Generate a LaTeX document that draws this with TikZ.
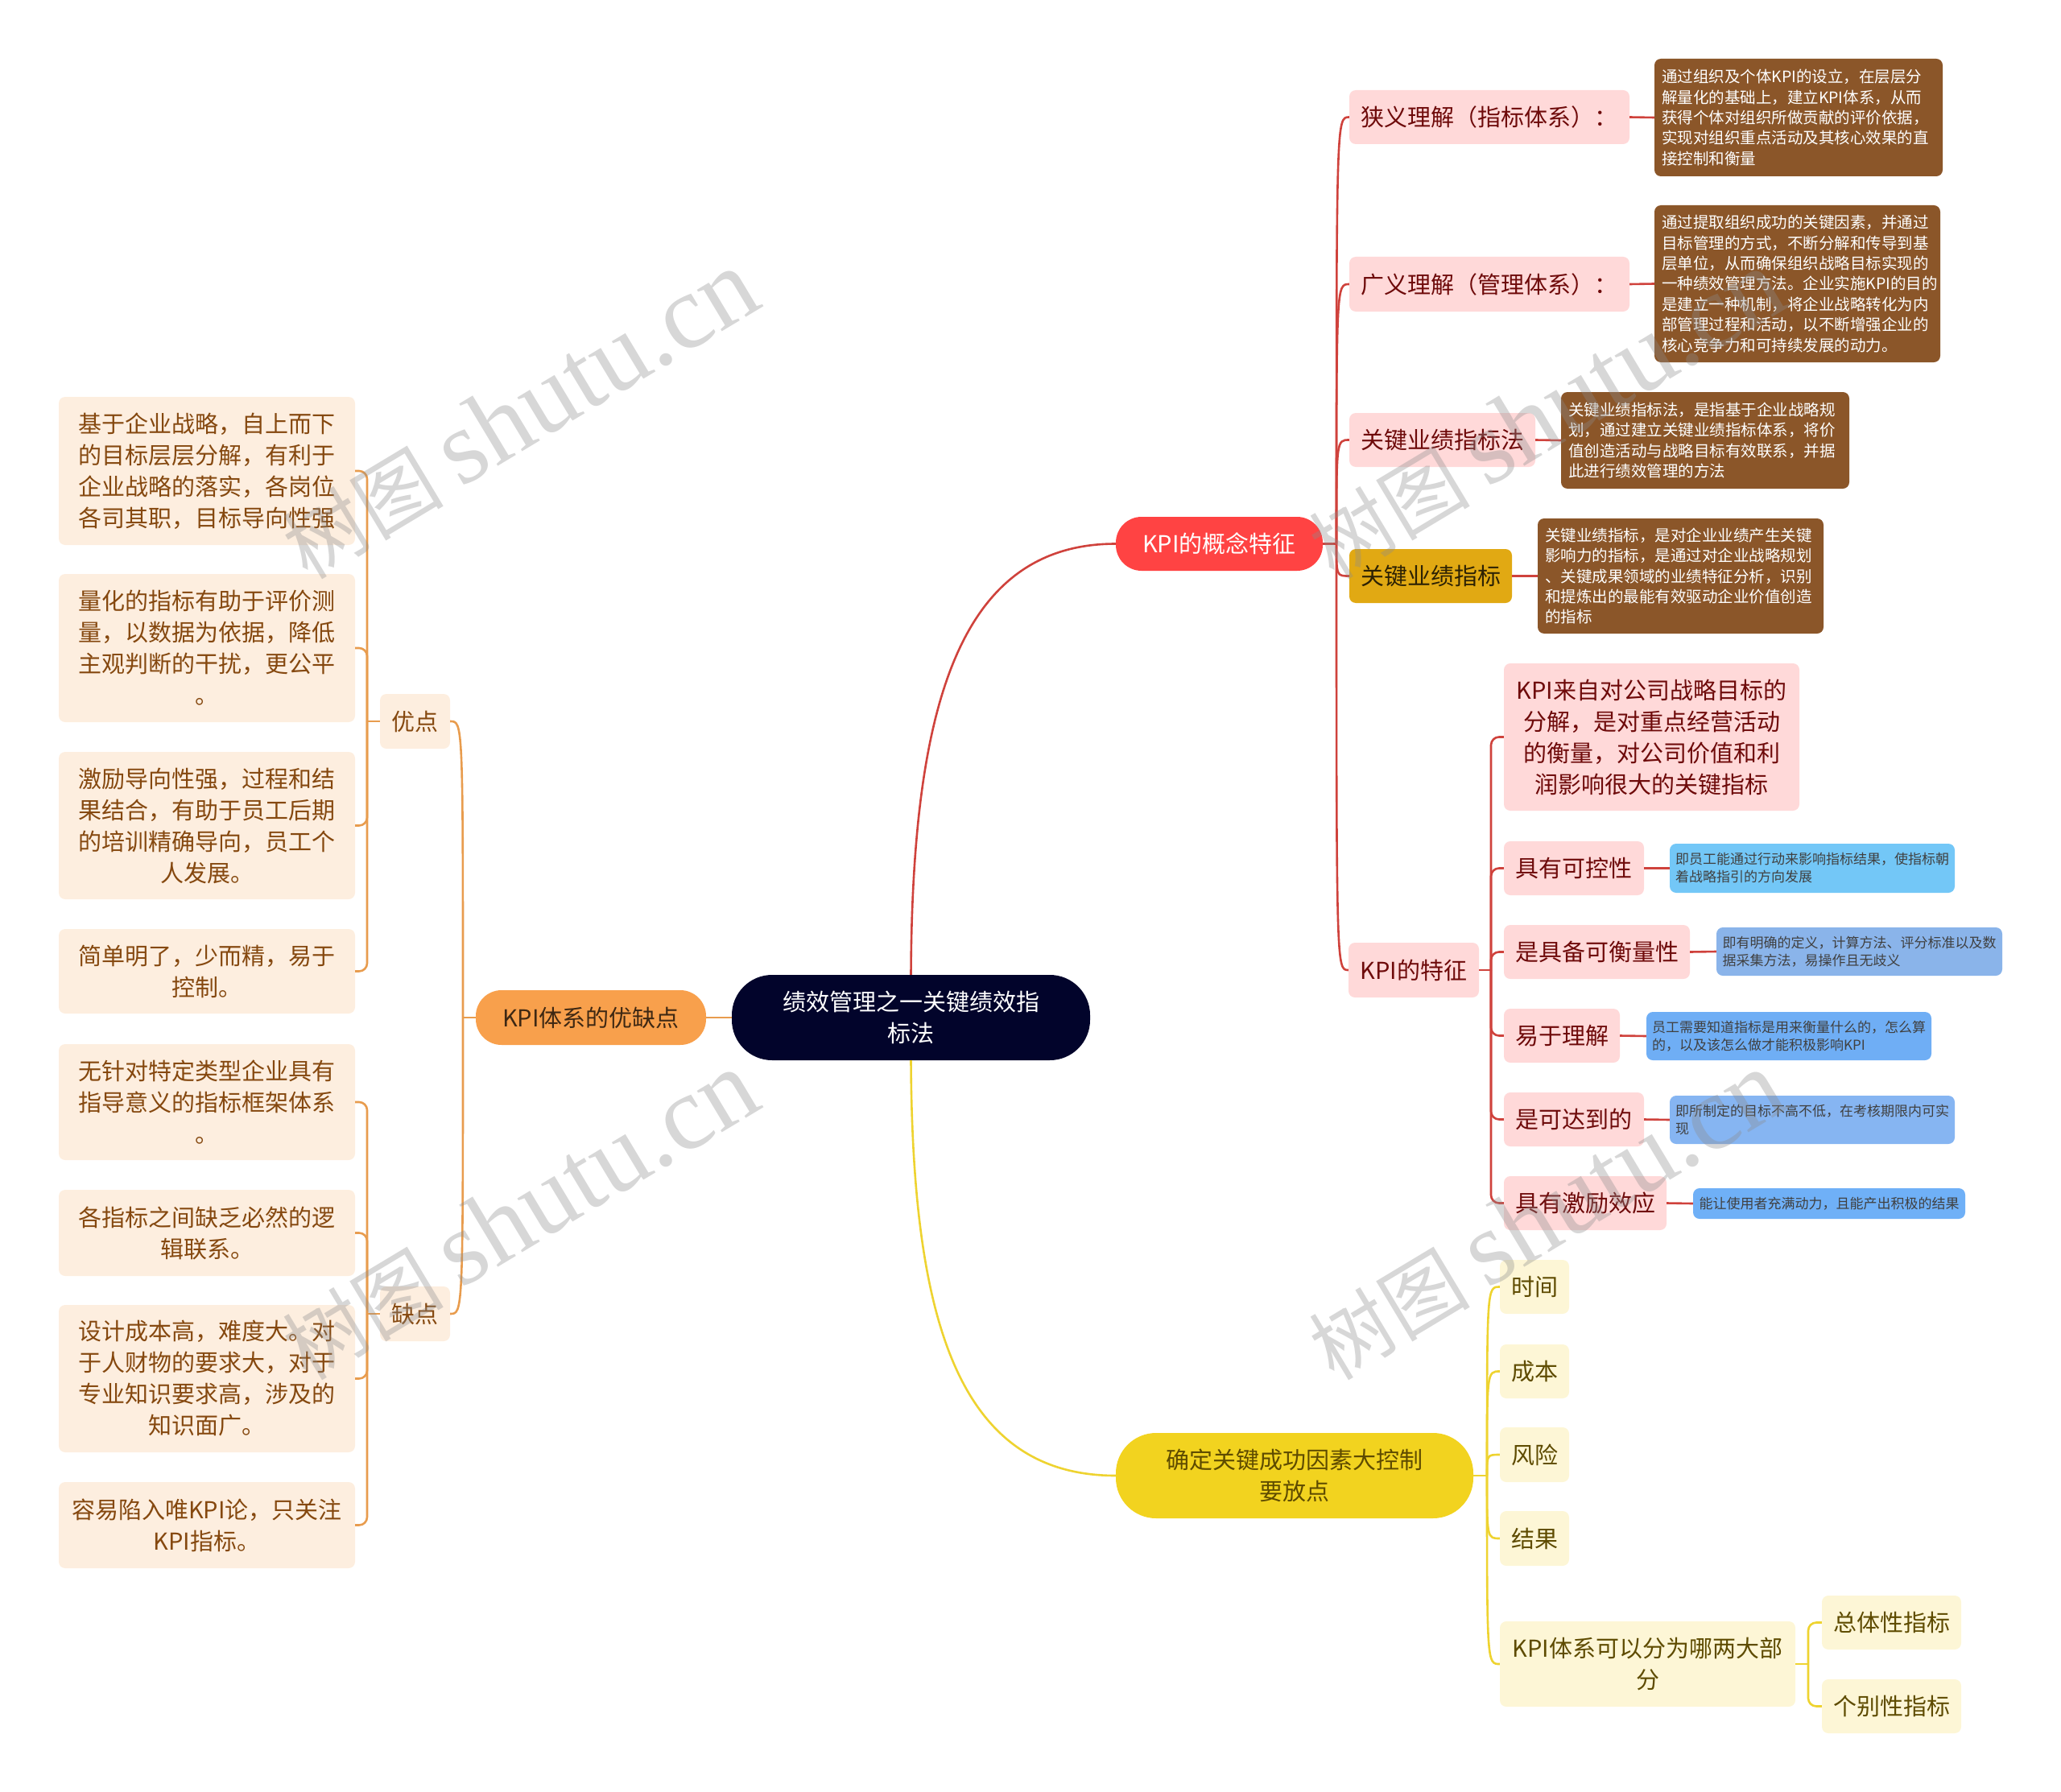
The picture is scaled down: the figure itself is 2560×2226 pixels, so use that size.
\documentclass[tikz,border=0pt]{standalone}
\usepackage{fontspec}
\setmainfont{Noto Sans CJK SC}
\newfontfamily\markfont{Liberation Serif}
\usetikzlibrary{positioning, calc}
\newcommand{\qc}{\char"FF0C\relax}
\newcommand{\qlp}{\char"FF08\relax}
\newcommand{\qrp}{\char"FF09\relax}
\newcommand{\qcolon}{\char"FF1A\relax}
\definecolor{rootfill}{HTML}{02042B}
\definecolor{redfill}{HTML}{FF4343}
\definecolor{redline}{HTML}{CF423C}
\definecolor{pinkfill}{HTML}{FFD9D9}
\definecolor{pinktext}{HTML}{6E0A0A}
\definecolor{goldfill}{HTML}{E1A913}
\definecolor{brownfill}{HTML}{8B5629}
\definecolor{orangefill}{HTML}{F8A04C}
\definecolor{orangeline}{HTML}{E89C4E}
\definecolor{peachfill}{HTML}{FDEEDF}
\definecolor{peachtext}{HTML}{85480F}
\definecolor{yellowfill}{HTML}{F2D31F}
\definecolor{yellowline}{HTML}{EED330}
\definecolor{paleyellow}{HTML}{FDF6D6}
\definecolor{paletext}{HTML}{5E4B00}
\definecolor{blueone}{HTML}{73C7F7}
\definecolor{bluetwo}{HTML}{8AB4EA}
\definecolor{bluethree}{HTML}{6FAEF5}
\definecolor{bluefour}{HTML}{86B5F2}
\definecolor{bluefive}{HTML}{6FB0F7}
\tikzset{
	card/.style={rectangle, align=center, inner sep=0pt, rounded corners=8pt, font=\fontsize{29}{39}\selectfont},
	pinkcard/.style={card, fill=pinkfill, text=pinktext},
	peachcard/.style={card, fill=peachfill, text=peachtext},
	textcard/.style={peachcard, minimum width=368pt},
	palecard/.style={card, fill=paleyellow, text=paletext},
	browncard/.style={card, align=left, fill=brownfill, text=white, inner xsep=9pt, font=\fontsize{19.5}{25.4}\selectfont},
	bluecard/.style={card, align=left, text=black!75, font=\fontsize{17}{22}\selectfont},
	redlink/.style={draw=redline, line width=2.6pt},
	orangelink/.style={draw=orangeline, line width=2.6pt},
	yellowlink/.style={draw=yellowline, line width=2.6pt},
	watermark/.style={text=black!45, opacity=0.35, rotate=31, font=\fontsize{100}{100}\selectfont}
}
\begin{document}
\begin{tikzpicture}[x=1pt, y=-1pt]
	\useasboundingbox (0,0) rectangle (2560,2226);
	\node[card, fill=rootfill, text=white, minimum width=445pt, minimum height=106pt, rounded corners=50pt] at (1131.5,1264) (root) {绩效管理之一关键绩效指\\标法};

	\node[card, fill=redfill, text=white, minimum width=257pt, minimum height=67pt, rounded corners=32pt] at (1514.5,675.5) (concept) {KPI的概念特征};
	\node[pinkcard, minimum width=348pt, minimum height=67pt] at (1850,145.5) (narrow) {狭义理解\qlp{}指标体系\qrp{}\qcolon{}};
	\node[pinkcard, minimum width=348pt, minimum height=68pt] at (1850,353) (broad) {广义理解\qlp{}管理体系\qrp{}\qcolon{}};
	\node[pinkcard, minimum width=231pt, minimum height=67pt] at (1791.5,546.5) (kpimethod) {关键业绩指标法};
	\node[card, fill=goldfill, text=black!80!goldfill, minimum width=202pt, minimum height=67pt] at (1777,715.5) (kpiindex) {关键业绩指标};
	\node[pinkcard, minimum width=162pt, minimum height=68pt] at (1756,1205) (traits) {KPI的特征};

	\node[browncard, text width=340pt, minimum height=146pt] at (2234,146) (narrowtext) {通过组织及个体KPI的设立\qc{}在层层分\\解量化的基础上\qc{}建立KPI体系\qc{}从而\\获得个体对组织所做贡献的评价依据\qc{}\\实现对组织重点活动及其核心效果的直\\接控制和衡量};
	\node[browncard, text width=337pt, minimum height=195pt] at (2232.5,352.5) (broadtext) {通过提取组织成功的关键因素\qc{}并通过\\目标管理的方式\qc{}不断分解和传导到基\\层单位\qc{}从而确保组织战略目标实现的\\一种绩效管理方法。企业实施KPI的目的\\是建立一种机制\qc{}将企业战略转化为内\\部管理过程和活动\qc{}以不断增强企业的\\核心竞争力和可持续发展的动力。};
	\node[browncard, text width=340pt, minimum height=120pt] at (2118,547) (methodtext) {关键业绩指标法\qc{}是指基于企业战略规\\划\qc{}通过建立关键业绩指标体系\qc{}将价\\值创造活动与战略目标有效联系\qc{}并据\\此进行绩效管理的方法};
	\node[browncard, text width=337pt, minimum height=143pt] at (2087.5,715.5) (indextext) {关键业绩指标\qc{}是对企业业绩产生关键\\影响力的指标\qc{}是通过对企业战略规划\\、关键成果领域的业绩特征分析\qc{}识别\\和提炼出的最能有效驱动企业价值创造\\的指标};

	\node[pinkcard, minimum width=367pt, minimum height=183pt] at (2051.5,915.5) (source) {KPI来自对公司战略目标的\\分解\qc{}是对重点经营活动\\的衡量\qc{}对公司价值和利\\润影响很大的关键指标};
	\node[pinkcard, minimum width=174pt, minimum height=67pt] at (1955,1078.5) (control) {具有可控性};
	\node[pinkcard, minimum width=231pt, minimum height=67pt] at (1983.5,1182.5) (measure) {是具备可衡量性};
	\node[pinkcard, minimum width=144pt, minimum height=67pt] at (1940,1286.5) (clear) {易于理解};
	\node[pinkcard, minimum width=174pt, minimum height=67pt] at (1955,1390.5) (reach) {是可达到的};
	\node[pinkcard, minimum width=202pt, minimum height=67pt] at (1969,1494.5) (motive) {具有激励效应};

	\node[bluecard, fill=blueone, minimum width=354pt, minimum height=61pt] at (2251,1078.5) (controltext) {即员工能通过行动来影响指标结果\qc{}使指标朝\\着战略指引的方向发展};
	\node[bluecard, fill=bluetwo, minimum width=355pt, minimum height=60pt] at (2309.5,1182) (measuretext) {即有明确的定义\qc{}计算方法、评分标准以及数\\据采集方法\qc{}易操作且无歧义};
	\node[bluecard, fill=bluethree, minimum width=354pt, minimum height=60pt] at (2222,1287) (cleartext) {员工需要知道指标是用来衡量什么的\qc{}怎么算\\的\qc{}以及该怎么做才能积极影响KPI};
	\node[bluecard, fill=bluefour, minimum width=354pt, minimum height=60pt] at (2251,1391) (reachtext) {即所制定的目标不高不低\qc{}在考核期限内可实\\现};
	\node[bluecard, fill=bluefive, minimum width=338pt, minimum height=38pt] at (2272,1495) (motivetext) {能让使用者充满动力\qc{}且能产出积极的结果};

	\node[card, fill=orangefill, text=black!75!orangefill, minimum width=286pt, minimum height=68pt, rounded corners=32pt] at (734,1264) (system) {KPI体系的优缺点};
	\node[peachcard, minimum width=87pt, minimum height=68pt] at (515.5,896) (pros) {优点};
	\node[peachcard, minimum width=87pt, minimum height=68pt] at (515.5,1632) (cons) {缺点};

	\node[textcard, minimum height=184pt] at (257,585) (pro1) {基于企业战略\qc{}自上而下\\的目标层层分解\qc{}有利于\\企业战略的落实\qc{}各岗位\\各司其职\qc{}目标导向性强};
	\node[textcard, minimum height=184pt] at (257,805) (pro2) {量化的指标有助于评价测\\量\qc{}以数据为依据\qc{}降低\\主观判断的干扰\qc{}更公平\\。};
	\node[textcard, minimum height=183pt] at (257,1025.5) (pro3) {激励导向性强\qc{}过程和结\\果结合\qc{}有助于员工后期\\的培训精确导向\qc{}员工个\\人发展。};
	\node[textcard, minimum height=105pt] at (257,1206.5) (pro4) {简单明了\qc{}少而精\qc{}易于\\控制。};
	\node[textcard, minimum height=144pt] at (257,1369) (con1) {无针对特定类型企业具有\\指导意义的指标框架体系\\。};
	\node[textcard, minimum height=107pt] at (257,1531.5) (con2) {各指标之间缺乏必然的逻\\辑联系。};
	\node[textcard, minimum height=183pt] at (257,1712.5) (con3) {设计成本高\qc{}难度大。对\\于人财物的要求大\qc{}对于\\专业知识要求高\qc{}涉及的\\知识面广。};
	\node[textcard, minimum height=107pt] at (257,1894.5) (con4) {容易陷入唯KPI论\qc{}只关注\\KPI指标。};

	\node[card, fill=yellowfill, text=paletext, minimum width=444pt, minimum height=106pt, rounded corners=50pt] at (1608,1833) (success) {确定关键成功因素大控制\\要放点};
	\node[palecard, minimum width=86pt, minimum height=67pt] at (1906,1598.5) (time) {时间};
	\node[palecard, minimum width=86pt, minimum height=67pt] at (1906,1703.5) (cost) {成本};
	\node[palecard, minimum width=86pt, minimum height=68pt] at (1906,1807) (risk) {风险};
	\node[palecard, minimum width=86pt, minimum height=68pt] at (1906,1911) (result) {结果};
	\node[palecard, minimum width=367pt, minimum height=106pt] at (2046.5,2067) (parts) {KPI体系可以分为哪两大部\\分};
	\node[palecard, minimum width=173pt, minimum height=67pt] at (2349.5,2015.5) (overall) {总体性指标};
	\node[palecard, minimum width=173pt, minimum height=67pt] at (2349.5,2119.5) (single) {个别性指标};

	\coordinate (redfork) at (1660,675.5);
	\coordinate (traitfork) at (1852,1205);
	\coordinate (orangefork) at (575,1264);
	\coordinate (profork) at (456,896);
	\coordinate (confork) at (456,1632);
	\coordinate (yellowfork) at (1847,1833);
	\coordinate (partfork) at (2246,2067);

	\draw[redlink] (root.north) .. controls (1133,880) and (1190,675.5) .. (concept.west);
	\draw[yellowlink] (root.south) .. controls (1133,1640) and (1190,1833) .. (success.west);
	\draw[orangelink] (root.west) -- (system.east);

	\draw[redlink] (concept.east) -- (redfork);
	\foreach \to in {narrow,broad,kpimethod,kpiindex,traits}
		\draw[redlink] (redfork) .. controls (redfork |- \to.west) and (redfork |- \to.west) .. (\to.west);
	\foreach \from/\to in {narrow/narrowtext,broad/broadtext,kpimethod/methodtext,kpiindex/indextext,control/controltext,measure/measuretext,clear/cleartext,reach/reachtext,motive/motivetext}
		\draw[redlink] (\from.east) -- (\to.west);
	\draw[redlink] (traits.east) -- (traitfork);
	\foreach \to in {source,control,measure,clear,reach,motive}
		\draw[redlink, rounded corners=10pt] (traitfork) |- (\to.west);

	\draw[orangelink] (system.west) -- (orangefork);
	\foreach \to in {pros,cons}
		\draw[orangelink] (orangefork) .. controls (orangefork |- \to.east) and (orangefork |- \to.east) .. (\to.east);
	\draw[orangelink] (pros.west) -- (profork);
	\foreach \to in {pro1,pro2,pro3,pro4}
		\draw[orangelink, rounded corners=10pt] (profork) |- (\to.east);
	\draw[orangelink] (cons.west) -- (confork);
	\foreach \to in {con1,con2,con3,con4}
		\draw[orangelink, rounded corners=10pt] (confork) |- (\to.east);

	\draw[yellowlink] (success.east) -- (yellowfork);
	\foreach \to in {time,cost,risk,result,parts}
		\draw[yellowlink] (yellowfork) .. controls (yellowfork |- \to.west) and (yellowfork |- \to.west) .. (\to.west);
	\draw[yellowlink] (parts.east) -- (partfork);
	\foreach \to in {overall,single}
		\draw[yellowlink, rounded corners=10pt] (partfork) |- (\to.west);

	\node[watermark] at (645,515) (mark1) {树图 {\markfont\fontsize{131}{131}\selectfont shutu.cn}};
	\node[watermark] at (1920,515) (mark2) {树图 {\markfont\fontsize{131}{131}\selectfont shutu.cn}};
	\node[watermark] at (645,1510) (mark3) {树图 {\markfont\fontsize{131}{131}\selectfont shutu.cn}};
	\node[watermark] at (1920,1510) (mark4) {树图 {\markfont\fontsize{131}{131}\selectfont shutu.cn}};
\end{tikzpicture}
\end{document}
